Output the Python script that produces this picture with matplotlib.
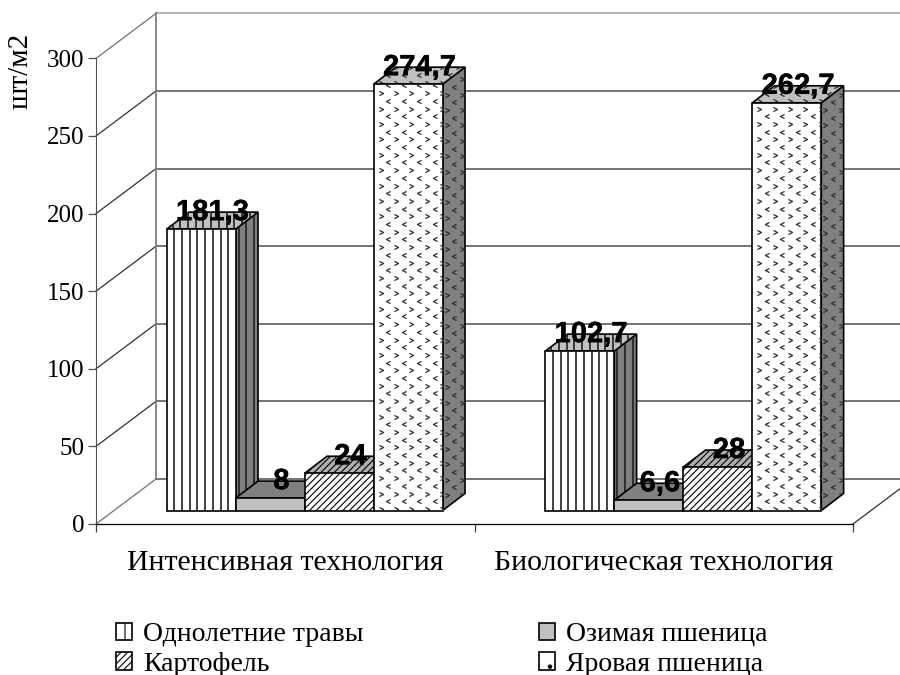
import numpy as np
import matplotlib
matplotlib.use("Agg")
import matplotlib.pyplot as plt
import matplotlib.patheffects as pe
from matplotlib.patches import Patch, Polygon
from matplotlib.path import Path

groups = ['Интенсивная технология', 'Биологическая технология']
series = ['Однолетние травы', 'Озимая пшеница', 'Картофель', 'Яровая пшеница']
grass = [181.3, 102.7]
winter_wheat = [8, 6.6]
potato = [24, 28]
spring_wheat = [274.7, 262.7]
y_ticks = [0, 50, 100, 150, 200, 250, 300]

plt.rcParams['font.family'] = ['Liberation Serif']
plt.rcParams['hatch.linewidth'] = 0.8

# axes fill the whole figure: x is in pixels, y is in chart units
px = 1.552
fig = plt.figure(figsize=(9, 6.75), dpi=100)
ax = fig.add_axes([0, 0, 1, 1])
ax.set_xlim(0, 900)
ax.set_ylim(-151 / px, 524 / px)
ax.patch.set_alpha(0)

wall_l, wall_r = 96, 853
wall_dx, wall_dy = 60, 45 / px
bar_w = 69
bar_dx, bar_dy = 22.3, 17 / px
bar_base = 13.5 / px
group_left = [166.7, 545.3]

for s in ['top', 'right']:
    ax.spines[s].set_visible(False)
ax.spines['left'].set_position(('data', wall_l))
ax.spines['left'].set_bounds(0, 300)
ax.spines['left'].set_color('#505050')
ax.spines['bottom'].set_position(('data', 0))
ax.spines['bottom'].set_bounds(wall_l, wall_r)
ax.spines['bottom'].set_linewidth(0.9)

ax.set_yticks(y_ticks)
ax.tick_params(axis='y', length=5.5, width=0.9, labelsize=18, pad=3, color='#505050')
ax.set_xticks([wall_l, (wall_l + wall_r) / 2, wall_r])
ax.set_xticklabels([])
ax.tick_params(axis='x', length=6, width=0.9, color='#404040')
ax.set_xticks([wall_l + (wall_r - wall_l) * 0.25, wall_l + (wall_r - wall_l) * 0.75], minor=True)
ax.set_xticklabels(groups, minor=True, fontsize=21.5)
ax.tick_params(axis='x', which='minor', length=0, pad=19)

# back wall, left wall and floor
for v in y_ticks:
    col = '#a0a0a0' if v == 300 else '#505050'
    ax.plot([wall_l, wall_l + wall_dx], [v, v + wall_dy], color='#707070' if v in (0, 300) else '#303030', lw=0.9, zorder=1)
    ax.plot([wall_l + wall_dx, 900], [v + wall_dy, v + wall_dy], color=col, lw=1.1, zorder=1)
ax.plot([wall_l + wall_dx] * 2, [wall_dy, 300 + wall_dy], color='#808080', lw=1.3, zorder=1)
ax.plot([wall_r, wall_r + wall_dx], [0, wall_dy], color='#303030', lw=0.9, zorder=1)


def vstripes(patch, x0, x1, y0, y1, z):
    xs = np.arange(x0, x1, 7.7)
    lines = ax.vlines(xs, y0, y1, color='#202020', lw=1.2, zorder=z)
    lines.set_clip_path(patch)


def chevrons(patch, x0, x1, y0, y1, z):
    right = Path([(-1, 1), (1, 0), (-1, -1)])
    left = Path([(1, 1), (-1, 0), (1, -1)])
    for i, y in enumerate(np.arange(y0, y1, 7.7 / px)):
        xs = np.arange(x0 + (7.7 if i % 2 else 0), x1, 15.4)
        m = left if i % 2 else right
        line, = ax.plot(xs, [y] * len(xs), ls='', marker=m, ms=3, mfc='none', mec='#303030', mew=0.9, zorder=z)
        line.set_clip_path(patch)


def draw_bar(x, value, style, z):
    base = bar_base
    top = base + value
    side = Polygon([(x + bar_w, base), (x + bar_w + bar_dx, base + bar_dy),
                    (x + bar_w + bar_dx, top + bar_dy), (x + bar_w, top)],
                   closed=True, fc=style['side'], ec='black', lw=1.2, zorder=z)
    roof = Polygon([(x, top), (x + bar_dx, top + bar_dy),
                    (x + bar_w + bar_dx, top + bar_dy), (x + bar_w, top)],
                   closed=True, fc=style['roof'], ec='black', lw=1.2, zorder=z,
                   hatch=style.get('hatch'))
    ax.add_patch(side)
    ax.add_patch(roof)
    front = ax.bar(x, value, bar_w, bottom=base, align='edge', color=style['front'],
                   edgecolor='black', lw=1.2, zorder=z + 0.2, hatch=style.get('hatch'))[0]
    if style.get('texture') == 'stripes':
        vstripes(side, x + bar_w + 3, x + bar_w + bar_dx, base, top + bar_dy, z + 0.1)
        vstripes(roof, x + 6, x + bar_w + bar_dx, top, top + bar_dy, z + 0.1)
        vstripes(front, x + 7.7, x + bar_w, base, top, z + 0.3)
    if style.get('texture') == 'chevrons':
        chevrons(side, x + bar_w + 4, x + bar_w + bar_dx, base, top + bar_dy, z + 0.1)
        chevrons(roof, x + 7, x + bar_w + bar_dx, top + 1, top + bar_dy, z + 0.1)
        chevrons(front, x + 7, x + bar_w, base + 1, top, z + 0.3)
    ax.text(x + bar_w / 2 + bar_dx / 2, top + bar_dy, str(value).replace('.', ','),
            ha='center', va='center', family='Liberation Sans', weight='bold',
            fontsize=21, color='black', zorder=50,
            path_effects=[pe.withStroke(linewidth=0.3, foreground='black')])


styles = [
    {'front': 'white', 'side': '#808080', 'roof': '#c0c0c0', 'texture': 'stripes'},
    {'front': '#c0c0c0', 'side': '#606060', 'roof': '#808080'},
    {'front': 'white', 'side': '#808080', 'roof': '#b0b0b0', 'hatch': '/////'},
    {'front': 'white', 'side': '#808080', 'roof': '#c0c0c0', 'texture': 'chevrons'},
]
values = [grass, winter_wheat, potato, spring_wheat]

z = 5
for g in range(len(groups)):
    for i in range(len(series)):
        draw_bar(group_left[g] + i * bar_w, values[i][g], styles[i], z)
        z += 1

ax.text(21, 292, 'шт/м2', rotation=90, ha='center', va='center', fontsize=21)

handles = [
    Patch(fc='white', ec='black', lw=1.2, hatch='|'),
    Patch(fc='white', ec='black', lw=1.2, hatch='/////'),
    Patch(fc='#c0c0c0', ec='black', lw=1.2),
    Patch(fc='white', ec='black', lw=1.2, hatch='.'),
]
labels = [series[0], series[2], series[1], series[3]]
ax.legend(handles, labels, ncol=2, frameon=False, fontsize=20,
          loc='upper left', bbox_to_anchor=(116 / 900, 1 - 622 / 675),
          borderpad=0, borderaxespad=0, handlelength=0.576, handleheight=0.576,
          handletextpad=0.4, columnspacing=6.3, labelspacing=0.17)

fig.savefig('out.png', dpi=100)
